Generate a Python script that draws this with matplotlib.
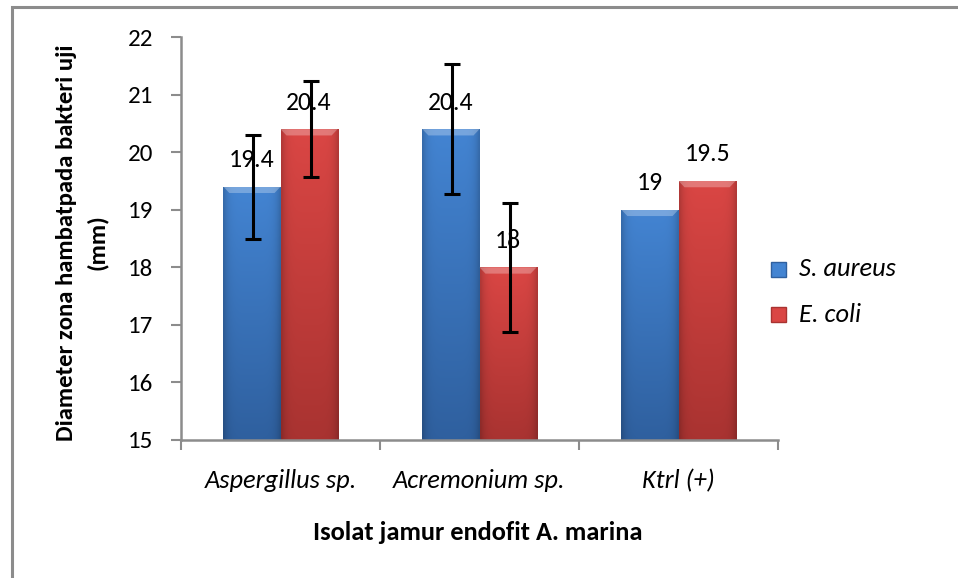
import matplotlib
matplotlib.use("Agg")
import matplotlib.pyplot as plt
import numpy as np
from matplotlib.patches import Rectangle
from matplotlib.colors import to_rgb

categories = ["Aspergillus sp.", "Acremonium sp.", "Ktrl (+)"]
series_names = ["S. aureus", "E. coli"]
s_aureus = [19.4, 20.4, 19.0]
e_coli = [20.4, 18.0, 19.5]
s_aureus_err = [0.9, 1.13, 0.0]
e_coli_err = [0.83, 1.12, 0.0]
value_labels_s = ["19.4", "20.4", "19"]
value_labels_e = ["20.4", "18", "19.5"]
yticks = [15, 16, 17, 18, 19, 20, 21, 22]

plt.rcParams['font.family'] = ['Carlito', 'DejaVu Sans']

fig = plt.figure(figsize=(9.58, 5.78), dpi=100)
ax = fig.add_axes([181/958, 1-440/578, (778-181)/958, (440-37)/578])

# figure border (left and top visible)
fig.add_artist(Rectangle((11.5/958, -0.1), 1.2, 1.1 - 7.5/578, transform=fig.transFigure,
                         fill=False, edgecolor="#8c8c8c", linewidth=2.2))

x = np.arange(len(categories))
w = 0.287
base = 15

blue_top, blue_bot = "#4384d2", "#2f609f"
red_top, red_bot = "#da4644", "#a93331"

def grad_bar(ax, xc, h, ctop, cbot):
    bars = ax.bar(xc, h - base, w, bottom=base, color=cbot, edgecolor="none", zorder=2)
    b = bars[0]
    n = 64
    t = np.linspace(0, 1, n)[:, None]
    c1 = np.array(to_rgb(ctop)); c2 = np.array(to_rgb(cbot))
    col = c1 * (1 - t[..., None]) + c2 * t[..., None]
    col = np.repeat(col, 32, axis=1)
    xs = np.linspace(0, 1, 32)
    side = 1 - 0.18 * (np.abs(xs - 0.5) * 2) ** 6
    col = col * side[None, :, None]
    im = ax.imshow(col, extent=[xc - w/2, xc + w/2, base, h], aspect='auto',
                   origin='upper', zorder=2.1, interpolation='bilinear')
    im.set_clip_path(b)
    bev = 0.11
    ax.add_patch(plt.Polygon([[xc - w/2, h], [xc + w/2, h], [xc + w/2 - 0.03, h - bev],
                              [xc - w/2 + 0.03, h - bev]], closed=True,
                             facecolor="white", alpha=0.28, edgecolor="none", zorder=2.2))
    return b

for i in range(len(categories)):
    grad_bar(ax, x[i] - w/2, s_aureus[i], blue_top, blue_bot)
    grad_bar(ax, x[i] + w/2, e_coli[i], red_top, red_bot)

for i in range(len(categories)):
    if s_aureus_err[i] > 0:
        ax.errorbar(x[i] - w/2 + 0.005, s_aureus[i], yerr=s_aureus_err[i], fmt='none',
                    ecolor='black', elinewidth=2.2, capsize=6, capthick=2.2, zorder=4)
    if e_coli_err[i] > 0:
        ax.errorbar(x[i] + w/2 + 0.01, e_coli[i], yerr=e_coli_err[i], fmt='none',
                    ecolor='black', elinewidth=2.2, capsize=6, capthick=2.2, zorder=4)

for i in range(len(categories)):
    ax.annotate(value_labels_s[i], (x[i] - w/2, s_aureus[i]), xytext=(0, 19.5),
                textcoords='offset points', ha='center', va='center', fontsize=18.5, zorder=5)
    ax.annotate(value_labels_e[i], (x[i] + w/2, e_coli[i]), xytext=(0, 19.5),
                textcoords='offset points', ha='center', va='center', fontsize=18.5, zorder=5)

ax.set_xlim(-0.5, len(categories) - 0.5)
ax.set_ylim(15, 22)
ax.set_yticks(yticks)
ax.set_yticklabels([str(v) for v in yticks], fontsize=18)
ax.set_xticks(x)
ax.set_xticklabels(categories, fontsize=19, style='italic')
ax.set_xticks(np.arange(-0.5, len(categories)), minor=True)
ax.tick_params(axis='x', which='major', length=0, pad=21)
ax.tick_params(axis='x', which='minor', length=7, width=1.5, color="#8c8c8c", direction='out')
ax.tick_params(axis='y', length=7, width=1.5, color="#8c8c8c", pad=13)

for s in ['top', 'right']:
    ax.spines[s].set_visible(False)
for s in ['left', 'bottom']:
    ax.spines[s].set_color("#8c8c8c")
    ax.spines[s].set_linewidth(1.8)

ax.set_ylabel("Diameter zona hambatpada bakteri uji\n(mm)", fontsize=17.8, fontweight='bold',
              linespacing=1.5)
ax.yaxis.set_label_coords(-73/597, 0.49)
fig.text(478/958, 1 - 533/578, "Isolat jamur endofit A. marina", fontsize=19,
         fontweight='bold', ha='center', va='center')

for j, (nm, col) in enumerate(zip(series_names, [blue_top, red_top])):
    yc = 1 - (269 + 45*j)/578
    fig.add_artist(Rectangle((771/958, yc - 7.5/578), 15/958, 15/578, transform=fig.transFigure,
                             facecolor=col, edgecolor=[blue_bot, red_bot][j], linewidth=1))
    fig.text(799/958, yc, nm, fontsize=19, style='italic', ha='left', va='center')

fig.savefig("out.png", dpi=100)
